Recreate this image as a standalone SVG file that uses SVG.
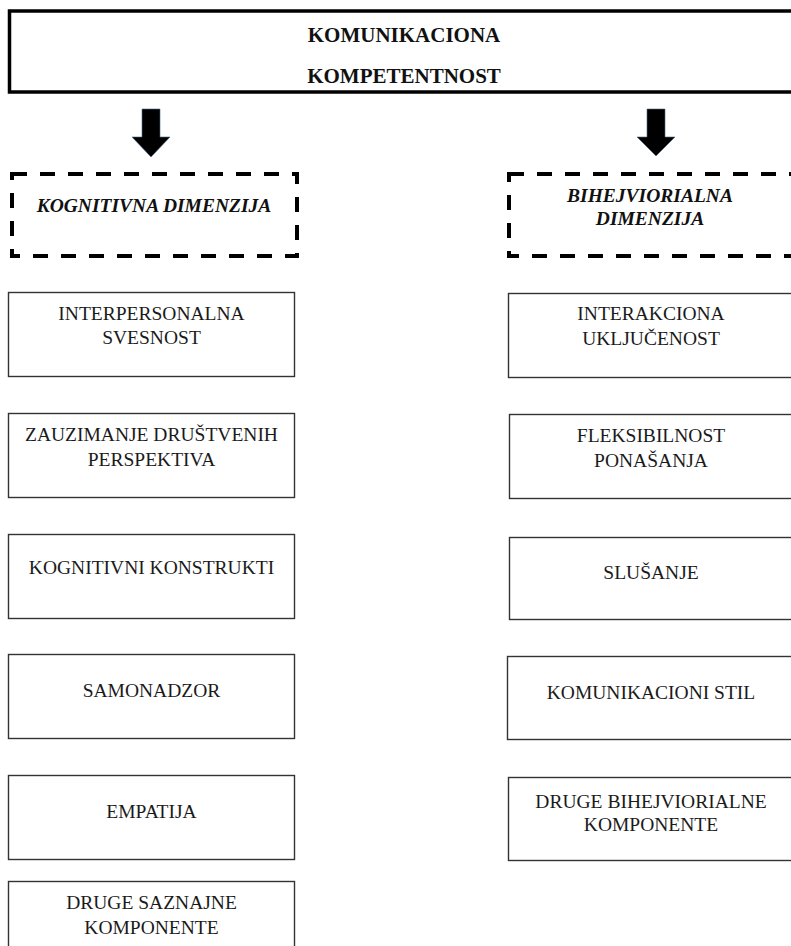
<svg xmlns="http://www.w3.org/2000/svg" width="791" height="946" viewBox="0 0 791 946">
<style>
.box{fill:#fff;stroke:#333;stroke-width:1.4}
.top{fill:#fff;stroke:#000;stroke-width:3.5}
.dash{fill:none;stroke:#000;stroke-width:4;stroke-dasharray:15 13}
text{font-family:'Liberation Serif','Times New Roman',serif;text-anchor:middle}
.t{font-size:19.5px;fill:#1a1a1a}
.tb{font-size:21px;font-weight:bold;fill:#111}
.ti{font-size:19.5px;font-weight:bold;font-style:italic;fill:#111}
.arr{fill:#000;stroke:#4a6d8c;stroke-width:0.6}
</style>
<rect width="791" height="946" fill="#fff"/>
<g id="komunikaciona-kompetentnost">
<rect class="top" x="9.5" y="11" width="800" height="81"/>
<text class="tb" x="404" y="42">KOMUNIKACIONA</text>
<text class="tb" x="404" y="83">KOMPETENTNOST</text>
</g>
<g id="connectors">
<polygon class="arr" points="142,109 160,109 160,137 170,137 151,157 132,137 142,137"/>
<polygon class="arr" points="647,109 665,109 665,137 675,137 656,156 637,137 647,137"/>
</g>
<g id="kognitivna-dimenzija">
<rect class="dash" x="12" y="174" width="285" height="82"/>
<text class="ti" x="154" y="211.5">KOGNITIVNA DIMENZIJA</text>
</g>
<g id="bihejviorialna-dimenzija">
<rect class="dash" x="509" y="174" width="300" height="82"/>
<text class="ti" x="650" y="201.5">BIHEJVIORIALNA</text>
<text class="ti" x="650" y="224.5">DIMENZIJA</text>
</g>
<g id="interpersonalna-svesnost">
<rect class="box" x="8.5" y="292.5" width="286" height="84"/>
<text class="t" x="151.5" y="320">INTERPERSONALNA</text>
<text class="t" x="151.5" y="344">SVESNOST</text>
</g>
<g id="zauzimanje">
<rect class="box" x="8.5" y="413.5" width="286" height="84"/>
<text class="t" x="151.5" y="441">ZAUZIMANJE DRUŠTVENIH</text>
<text class="t" x="151.5" y="465.5">PERSPEKTIVA</text>
</g>
<g id="kognitivni-konstrukti">
<rect class="box" x="8.5" y="534.5" width="286" height="84"/>
<text class="t" x="151.5" y="574">KOGNITIVNI KONSTRUKTI</text>
</g>
<g id="samonadzor">
<rect class="box" x="8.5" y="654.5" width="286" height="84"/>
<text class="t" x="151.5" y="696.5">SAMONADZOR</text>
</g>
<g id="empatija">
<rect class="box" x="8.5" y="775.5" width="286" height="84"/>
<text class="t" x="151.5" y="817.5">EMPATIJA</text>
</g>
<g id="druge-saznajne">
<rect class="box" x="8.5" y="881.5" width="286" height="84"/>
<text class="t" x="151.5" y="908.5">DRUGE SAZNAJNE</text>
<text class="t" x="151.5" y="933.5">KOMPONENTE</text>
</g>
<g id="interakciona-ukljucenost">
<rect class="box" x="508.5" y="293.5" width="300" height="84"/>
<text class="t" x="651" y="320">INTERAKCIONA</text>
<text class="t" x="651" y="344.5">UKLJUČENOST</text>
</g>
<g id="fleksibilnost">
<rect class="box" x="509.5" y="414.5" width="300" height="84"/>
<text class="t" x="651" y="441.5">FLEKSIBILNOST</text>
<text class="t" x="651" y="466.5">PONAŠANJA</text>
</g>
<g id="slusanje">
<rect class="box" x="509.5" y="537.5" width="300" height="82"/>
<text class="t" x="651" y="578.5">SLUŠANJE</text>
</g>
<g id="komunikacioni-stil">
<rect class="box" x="507.5" y="656.5" width="300" height="83"/>
<text class="t" x="651" y="698.5">KOMUNIKACIONI STIL</text>
</g>
<g id="druge-bihejviorialne">
<rect class="box" x="508.5" y="777.5" width="300" height="83"/>
<text class="t" x="651" y="807.5">DRUGE BIHEJVIORIALNE</text>
<text class="t" x="651" y="831">KOMPONENTE</text>
</g>
</svg>
